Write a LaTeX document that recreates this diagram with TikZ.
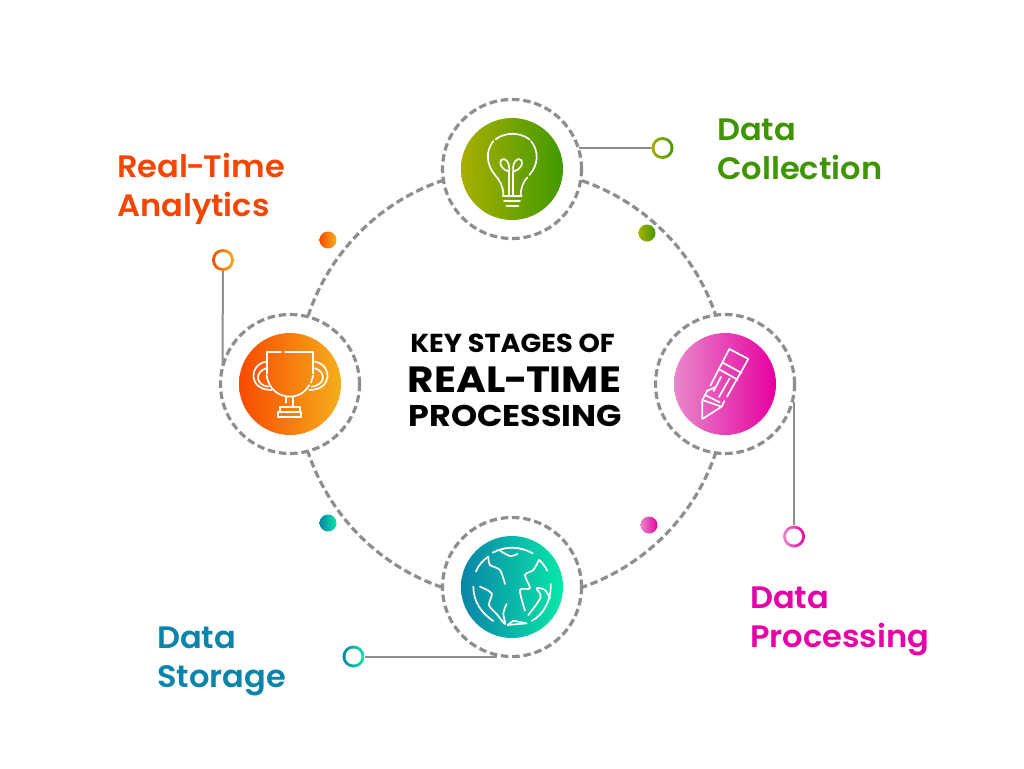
\documentclass[tikz,border=0pt]{standalone}
\usepackage{fontspec}
\setmainfont{Poppins SemiBold}[FakeStretch=1.035]
\newfontfamily\titlefont{Poppins Bold}[FakeStretch=1.045]
\newfontfamily\titlewide{Poppins Bold}[FakeStretch=1.11]
\definecolor{ringgray}{HTML}{8E8E8E}
\definecolor{greenA}{HTML}{A8AE00}
\definecolor{greenB}{HTML}{419A00}
\definecolor{pinkA}{HTML}{E988CC}
\definecolor{pinkB}{HTML}{E600A0}
\definecolor{orangeA}{HTML}{F94A00}
\definecolor{orangeB}{HTML}{F5AE1C}
\definecolor{tealA}{HTML}{0A84A8}
\definecolor{tealB}{HTML}{08E8A8}
\definecolor{txtgreen}{HTML}{3F9400}
\definecolor{txtorange}{HTML}{F54600}
\definecolor{txtpink}{HTML}{E600A5}
\definecolor{txtteal}{HTML}{0A84A8}
\tikzset{
  dashring/.style={circle,draw=ringgray,line width=3.2pt,dash pattern=on 7.5pt off 3.8pt,minimum size=139pt,inner sep=0pt},
  dashline/.style={draw=ringgray,line width=3.2pt,dash pattern=on 7.5pt off 3.8pt},
  disc/.style 2 args={circle,minimum size=102pt,inner sep=0pt,left color=#1,right color=#2},
  dot/.style 2 args={circle,minimum size=17pt,inner sep=0pt,left color=#1,right color=#2},
  pinout/.style 2 args={circle,minimum size=22pt,inner sep=0pt,left color=#1,right color=#2},
  pinin/.style={circle,fill=white,minimum size=16pt,inner sep=0pt},
  stem/.style={draw=ringgray,line width=2pt},
  icon/.style={draw=white,line width=1.7pt,line cap=round,line join=round},
  stage/.style={font=\fontsize{31}{39}\selectfont,align=left,anchor=west,inner sep=0pt}
}
\begin{document}
\begin{tikzpicture}[x=1pt,y=-1pt]
  \useasboundingbox (0,0) rectangle (1024,768);
  \coordinate (hub) at (512,384);

  % big ring
  \foreach \a/\b in {71/18.4,-18.4/-71,-109/-161.6,161.6/109}
    \draw[dashline] ([shift={(\a:215pt)}]hub) arc[start angle=\a,end angle=\b,radius=215pt];

  % stages
  \node[dashring] (ringtop) at (512,169) {};
  \node[dashring] (ringright) at (725,384) {};
  \node[dashring] (ringbottom) at (512,587) {};
  \node[dashring] (ringleft) at (290,384) {};
  \node[disc={greenA}{greenB}] (disctop) at (512,169) {};
  \node[disc={pinkA}{pinkB}] (discright) at (725,384) {};
  \node[disc={tealA}{tealB}] (discbottom) at (512,587) {};
  \node[disc={orangeA}{orangeB}] (discleft) at (290,384) {};

  % small dots
  \node[dot={orangeA}{orangeB}] (dotleft) at (328,240) {};
  \node[dot={greenA}{greenB}] (dottop) at (647,233) {};
  \node[dot={pinkA}{pinkB}] (dotright) at (649,525) {};
  \node[dot={tealA}{tealB}] (dotbottom) at (328,523) {};

  % pins and their stems
  \node[pinout={greenA}{greenB}] (pintop) at (662.5,148) {};
  \node[pinout={pinkA}{pinkB}] (pinright) at (794,536.5) {};
  \node[pinout={tealA}{tealB}] (pinbottom) at (353.5,656.5) {};
  \node[pinout={orangeA}{orangeB}] (pinleft) at (223,260) {};
  \coordinate (endtop) at (579,148);
  \coordinate (endright) at (794,402);
  \coordinate (endbottom) at (497,656.5);
  \coordinate (endleft) at (222.5,366);
  \draw[stem] (pintop) -- (endtop);
  \draw[stem] (pinright) -- (endright);
  \draw[stem] (pinbottom) -- (endbottom);
  \draw[stem] (pinleft) -- (endleft);
  \node[pinin] at (pintop) {};
  \node[pinin] at (pinright) {};
  \node[pinin] at (pinbottom) {};
  \node[pinin] at (pinleft) {};

  % bulb
  \begin{scope}[shift={(430,90)},x=.3333pt,y=-.3333pt]
    \draw[icon] (197,148) .. controls (225,126) and (270,126) .. (298,148);
    \draw[icon] (190,153) .. controls (165,185) and (170,225) .. (195,255) .. controls (210,272) and (220,290) .. (220,315);
    \draw[icon] (303,153) .. controls (328,185) and (325,225) .. (298,255);
    \draw[icon] (292,262) .. controls (280,275) and (272,295) .. (272,315);
    \draw[icon] (237,245) .. controls (205,235) and (205,205) .. (222,207) .. controls (235,210) and (240,230) .. (237,245);
    \draw[icon] (250,245) .. controls (282,235) and (282,205) .. (265,207) .. controls (252,210) and (247,230) .. (250,245);
    \draw[icon] (237,245) -- (237,315);
    \draw[icon] (250,245) -- (250,315);
    \draw[icon] (218,318) -- (275,318);
    \draw[icon] (222,332) -- (270,332);
    \draw[icon] (230,348) -- (265,348);
  \end{scope}

  % trophy
  \begin{scope}[shift={(200,230)},x=.3333pt,y=-.3333pt]
    \draw[icon] (200,430) -- (200,365) -- (243,365);
    \draw[icon] (255,365) -- (340,365) -- (340,430);
    \draw[icon] (200,435) .. controls (205,480) and (240,500) .. (270,500) .. controls (290,500) and (315,490) .. (328,465);
    \draw[icon] (333,458) -- (340,436);
    \draw[icon] (198,395) .. controls (145,405) and (145,480) .. (215,480);
    \draw[icon] (198,415) .. controls (165,425) and (165,465) .. (205,470);
    \draw[icon] (345,395) .. controls (398,405) and (398,480) .. (328,480);
    \draw[icon] (345,415) .. controls (378,425) and (378,465) .. (335,470);
    \draw[icon] (258,503) -- (258,518);
    \draw[icon] (280,503) -- (280,530);
    \draw[icon] (240,530) -- (300,530) -- (300,545);
    \draw[icon] (240,530) -- (240,545);
    \draw[icon] (235,545) rectangle (303,562);
  \end{scope}

  % pencil
  \begin{scope}[shift={(695,345)},x=.3333pt,y=-.3333pt]
    \draw[icon] (38,135) -- (22,165) -- (22,222) -- (80,185) -- (22,165);
    \draw[icon] (46,122) -- (103,12) -- (160,42) -- (96,155);
    \draw[icon] (88,168) -- (80,185);
    \draw[icon] (85,54) -- (140,84);
    \draw[icon] (74,74) -- (128,104);
    \draw[icon] (78,96) -- (56,138);
    \draw[icon] (104,100) -- (72,156);
    \draw[icon] (36,138) -- (62,126);
    \draw[icon] (34,152) -- (74,172);
  \end{scope}

  % globe
  \begin{scope}[shift={(340,510)},x=.3333pt,y=-.3333pt]
    \draw[icon] (458,128) .. controls (495,108) and (540,108) .. (578,130);
    \draw[icon] (408,185) .. controls (415,165) and (430,150) .. (445,140);
    \draw[icon] (400,230) .. controls (400,275) and (425,310) .. (460,333);
    \draw[icon] (575,333) .. controls (610,315) and (635,270) .. (632,222);
    \draw[icon] (622,182) .. controls (615,170) and (608,158) .. (597,150);
    \draw[icon] plot[smooth] coordinates {(445,140) (450,165) (480,180) (495,222)};
    \draw[icon] plot[smooth] coordinates {(420,230) (455,250) (447,285) (470,312) (495,342) (490,310) (500,282)};
    \draw[icon] plot[smooth] coordinates {(597,150) (580,180) (555,195) (570,235) (540,240) (555,302)};
    \draw[icon] plot[smooth] coordinates {(565,315) (602,262) (590,235) (615,240) (630,265)};
    \draw[icon] (503,345) -- (520,332) -- (560,340) -- cycle;
    \draw[icon] plot[smooth] coordinates {(480,122) (510,138) (532,132)};
  \end{scope}

  % labels
  \node[stage,text=txtgreen] (labtop) at (717,149) {Data\\Collection};
  \node[stage,text=txtorange] (lableft) at (117,189) {Real\kern-1.5pt-\kern-1.5pt Time\\Analytics};
  \node[stage,text=txtpink] (labright) at (750,621) {Data\\Processing};
  \node[stage,text=txtteal] (labbottom) at (157,661) {Data\\Storage};

  % centre title
  \node[font=\titlefont\fontsize{26}{26}\selectfont] (titlea) at (512.5,343) {KEY STAGES OF};
  \node[font=\titlewide\fontsize{36.5}{36.5}\selectfont] (titleb) at (514.5,380) {REAL\kern-1.5pt-\kern-1.5pt TIME};
  \node[font=\titlewide\fontsize{30}{30}\selectfont] (titlec) at (515.5,416) {PROCESSING};
\end{tikzpicture}
\end{document}
